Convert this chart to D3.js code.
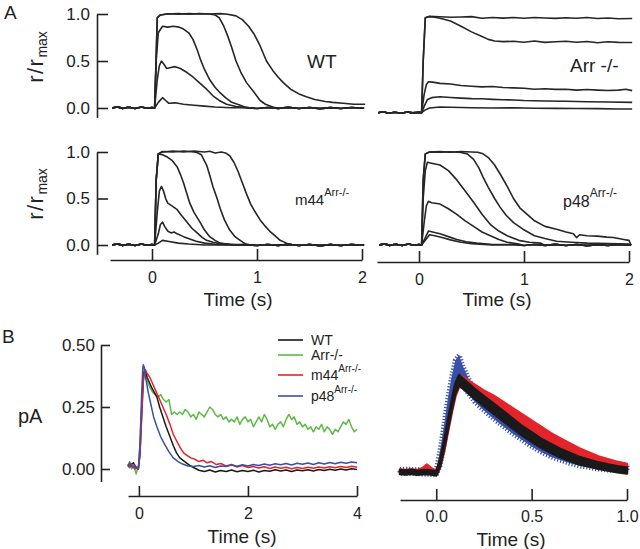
<!DOCTYPE html>
<html><head><meta charset="utf-8">
<script src="https://cdn.jsdelivr.net/npm/d3@7"></script>
<style>
body{margin:0;background:#fff;}
svg text{font-family:"Liberation Sans",Arial,Helvetica,sans-serif;fill:#222;}
</style></head><body>
<svg id="c" width="640" height="549"></svg>
<script>
// ---------- Panel A data (time s, r/rmax) ----------
const preA = [[-0.38,0],[-0.33,0.012],[-0.28,-0.004],[-0.22,0.008],[-0.16,-0.006],[-0.1,0.01],[-0.05,-0.003],[0.0,0.004],[0.025,0]];
const tailA = [[0.9,0.004],[1.0,-0.005],[1.1,0.006],[1.2,-0.004],[1.3,0.007],[1.4,-0.006],[1.5,0.005],[1.6,-0.007],[1.7,0.004],[1.8,-0.005],[1.9,0.006],[2.02,-0.003]];
const preArr = [[-0.39,-0.05],[-0.34,-0.04],[-0.29,-0.055],[-0.23,-0.045],[-0.17,-0.055],[-0.11,-0.042],[-0.06,-0.052],[0.0,-0.047],[0.025,-0.05]];

const wtTraces = [
 [[0.04,0.55],[0.05,0.96],[0.08,0.99],[0.15,1.0],[0.25,1.005],[0.35,0.998],[0.45,1.006],[0.55,1.0],[0.65,1.004],[0.72,0.998],[0.8,0.98],[0.86,0.94],[0.92,0.87],[0.97,0.79],[1.03,0.66],[1.09,0.5],[1.15,0.4],[1.2,0.33],[1.25,0.27],[1.32,0.2],[1.4,0.15],[1.47,0.12],[1.55,0.09],[1.65,0.07],[1.72,0.06],[1.82,0.05],[1.92,0.04],[2.03,0.04]],
 [[0.04,0.55],[0.05,0.96],[0.08,0.99],[0.15,1.002],[0.25,0.998],[0.35,1.004],[0.45,1.0],[0.55,1.0],[0.6,0.99],[0.64,0.96],[0.68,0.88],[0.72,0.77],[0.76,0.64],[0.8,0.5],[0.85,0.37],[0.9,0.27],[0.97,0.17],[1.03,0.08],[1.08,0.04],[1.15,0.01]],
 [[0.04,0.5],[0.06,0.8],[0.1,0.87],[0.15,0.86],[0.2,0.87],[0.26,0.86],[0.3,0.84],[0.35,0.8],[0.39,0.73],[0.43,0.62],[0.46,0.52],[0.5,0.41],[0.55,0.3],[0.6,0.22],[0.65,0.16],[0.7,0.11],[0.76,0.06],[0.84,0.03]],
 [[0.05,0.3],[0.07,0.45],[0.09,0.5],[0.11,0.47],[0.14,0.42],[0.18,0.43],[0.22,0.44],[0.27,0.42],[0.33,0.38],[0.39,0.33],[0.45,0.27],[0.52,0.2],[0.58,0.13],[0.64,0.08],[0.71,0.04],[0.8,0.015]],
 [[0.06,0.06],[0.1,0.11],[0.13,0.08],[0.16,0.05],[0.22,0.055],[0.3,0.04],[0.4,0.03],[0.5,0.02],[0.6,0.01],[0.75,0.003]]
];
const arrTraces = [
 [[0.04,0.5],[0.06,0.96],[0.1,0.975],[0.2,0.97],[0.3,0.965],[0.4,0.968],[0.5,0.972],[0.6,0.955],[0.7,0.962],[0.8,0.956],[0.9,0.962],[1.0,0.955],[1.1,0.963],[1.2,0.957],[1.3,0.953],[1.4,0.96],[1.5,0.955],[1.6,0.962],[1.7,0.952],[1.8,0.957],[1.9,0.95],[2.03,0.952]],
 [[0.04,0.5],[0.06,0.96],[0.1,0.972],[0.15,0.966],[0.2,0.955],[0.3,0.925],[0.4,0.87],[0.5,0.81],[0.6,0.76],[0.66,0.73],[0.72,0.712],[0.8,0.706],[0.9,0.71],[1.0,0.7],[1.1,0.712],[1.2,0.698],[1.3,0.705],[1.4,0.71],[1.5,0.7],[1.6,0.708],[1.7,0.694],[1.8,0.704],[1.9,0.698],[2.03,0.697]],
 [[0.05,0.15],[0.07,0.25],[0.09,0.28],[0.13,0.275],[0.2,0.262],[0.3,0.255],[0.4,0.24],[0.5,0.232],[0.6,0.225],[0.7,0.228],[0.8,0.218],[0.9,0.214],[1.0,0.21],[1.1,0.2],[1.2,0.205],[1.3,0.198],[1.4,0.2],[1.5,0.19],[1.6,0.196],[1.7,0.19],[1.8,0.186],[1.9,0.19],[1.97,0.2],[2.03,0.185]],
 [[0.05,0.02],[0.08,0.09],[0.12,0.11],[0.2,0.12],[0.3,0.112],[0.4,0.105],[0.5,0.1],[0.6,0.098],[0.7,0.092],[0.8,0.088],[0.9,0.085],[1.0,0.08],[1.2,0.075],[1.4,0.072],[1.6,0.066],[1.8,0.064],[2.03,0.06]],
 [[0.06,-0.02],[0.1,0.0],[0.2,0.01],[0.3,0.008],[0.5,0.003],[0.7,0.0],[0.9,0.002],[1.1,-0.003],[1.3,-0.004],[1.5,-0.006],[1.7,-0.007],[1.9,-0.01],[2.03,-0.01]]
];
const m44Traces = [
 [[0.04,0.7],[0.06,0.98],[0.1,1.0],[0.2,1.01],[0.3,1.0],[0.4,1.01],[0.5,1.0],[0.55,1.008],[0.6,0.99],[0.66,1.0],[0.7,0.99],[0.74,0.96],[0.78,0.89],[0.82,0.79],[0.86,0.67],[0.9,0.55],[0.94,0.44],[0.98,0.36],[1.03,0.27],[1.08,0.2],[1.12,0.15],[1.17,0.1],[1.22,0.05],[1.28,0.02]],
 [[0.04,0.7],[0.06,0.98],[0.1,1.005],[0.2,1.0],[0.3,1.01],[0.4,1.0],[0.43,0.995],[0.47,0.97],[0.52,0.86],[0.55,0.75],[0.58,0.63],[0.62,0.5],[0.65,0.39],[0.69,0.27],[0.74,0.16],[0.79,0.09],[0.84,0.05]],
 [[0.04,0.7],[0.06,0.98],[0.1,0.97],[0.14,0.95],[0.19,0.91],[0.24,0.84],[0.27,0.76],[0.3,0.67],[0.33,0.56],[0.36,0.45],[0.4,0.35],[0.46,0.24],[0.5,0.16],[0.55,0.09],[0.6,0.05],[0.65,0.02],[0.75,0.005]],
 [[0.05,0.35],[0.07,0.58],[0.09,0.63],[0.11,0.58],[0.13,0.5],[0.15,0.45],[0.19,0.42],[0.24,0.38],[0.28,0.32],[0.33,0.25],[0.38,0.18],[0.43,0.13],[0.48,0.08],[0.52,0.05],[0.58,0.03],[0.65,0.015],[0.8,0.003]],
 [[0.06,0.12],[0.08,0.22],[0.1,0.245],[0.12,0.2],[0.15,0.15],[0.18,0.13],[0.21,0.14],[0.24,0.12],[0.3,0.09],[0.36,0.065],[0.42,0.04],[0.5,0.02],[0.6,0.008],[0.8,0.0]],
 [[0.06,0.02],[0.1,0.05],[0.15,0.04],[0.25,0.02],[0.35,0.01],[0.5,0.0],[0.8,0.0]]
];
const p48Traces = [
 [[0.04,0.7],[0.06,0.98],[0.1,1.0],[0.2,1.004],[0.3,0.998],[0.4,1.005],[0.5,1.0],[0.56,0.998],[0.61,0.98],[0.66,0.94],[0.72,0.86],[0.78,0.75],[0.84,0.63],[0.9,0.5],[0.96,0.4],[1.03,0.33],[1.1,0.26],[1.2,0.2],[1.31,0.17],[1.4,0.14],[1.47,0.12],[1.5,0.08],[1.53,0.11],[1.6,0.1],[1.7,0.095],[1.79,0.085],[1.85,0.08],[1.9,0.07],[1.95,0.06],[2.0,0.05]],
 [[0.04,0.7],[0.06,0.98],[0.1,1.0],[0.2,0.998],[0.3,1.002],[0.4,0.995],[0.46,0.98],[0.52,0.92],[0.57,0.83],[0.61,0.73],[0.66,0.62],[0.72,0.5],[0.77,0.41],[0.83,0.32],[0.9,0.24],[0.99,0.17],[1.1,0.1],[1.2,0.07],[1.31,0.04],[1.45,0.03],[1.6,0.02],[1.8,0.015],[2.0,0.01]],
 [[0.04,0.5],[0.06,0.8],[0.08,0.89],[0.12,0.88],[0.2,0.86],[0.28,0.8],[0.36,0.7],[0.44,0.58],[0.52,0.46],[0.6,0.33],[0.68,0.22],[0.76,0.15],[0.84,0.1],[0.95,0.05],[1.05,0.03],[1.16,0.02]],
 [[0.05,0.25],[0.07,0.42],[0.09,0.47],[0.12,0.455],[0.2,0.44],[0.28,0.39],[0.36,0.33],[0.44,0.26],[0.52,0.2],[0.6,0.14],[0.68,0.1],[0.76,0.06],[0.84,0.03],[0.95,0.01]],
 [[0.06,0.08],[0.09,0.15],[0.13,0.14],[0.2,0.12],[0.28,0.09],[0.36,0.06],[0.45,0.035],[0.55,0.02],[0.7,0.005]],
 [[0.06,0.05],[0.1,0.11],[0.15,0.1],[0.22,0.08],[0.3,0.055],[0.4,0.03],[0.5,0.015],[0.7,0.0]]
];
const aYTicks = [0, 0.5, 1];
const aXTicks = [0, 1, 2];

// ---------- Panel B left data (time s, pA) ----------
const bWT = [[-0.2,0.02],[-0.17,0.008],[-0.14,0.018],[-0.1,0.025],[-0.07,0.01],[-0.04,0.004],[-0.01,0.0],[0.02,0.06],[0.05,0.22],[0.08,0.36],[0.1,0.40],[0.12,0.395],[0.15,0.37],[0.19,0.35],[0.23,0.33],[0.28,0.31],[0.33,0.29],[0.38,0.25],[0.44,0.21],[0.5,0.17],[0.57,0.13],[0.63,0.095],[0.69,0.065],[0.75,0.045],[0.81,0.035],[0.87,0.025],[0.95,0.012],[1.02,0.004],[1.1,-0.005],[1.2,-0.01],[1.3,-0.004],[1.4,-0.012],[1.5,-0.006],[1.6,-0.01],[1.7,-0.004],[1.8,-0.011],[1.9,-0.006],[2.0,-0.01],[2.1,-0.005],[2.2,-0.012],[2.3,-0.006],[2.4,-0.009],[2.5,-0.003],[2.6,-0.008],[2.7,-0.004],[2.8,-0.01],[2.9,-0.004],[3.0,-0.007],[3.1,-0.003],[3.2,-0.008],[3.3,-0.002],[3.4,-0.006],[3.5,-0.001],[3.6,-0.005],[3.7,0.0],[3.8,-0.004],[3.9,0.001],[4.0,-0.002]];
const bArr = [[-0.2,0.01],[-0.17,0.03],[-0.13,0.0],[-0.1,0.012],[-0.07,-0.005],[-0.05,-0.02],[-0.02,0.005],[0.0,0.02],[0.03,0.15],[0.06,0.3],[0.09,0.38],[0.11,0.40],[0.13,0.37],[0.16,0.35],[0.2,0.33],[0.25,0.31],[0.3,0.30],[0.35,0.29],[0.4,0.3],[0.45,0.28],[0.5,0.27],[0.55,0.28],[0.6,0.22],[0.65,0.23],[0.7,0.22],[0.75,0.23],[0.8,0.22],[0.85,0.24],[0.9,0.23],[0.95,0.21],[1.0,0.22],[1.05,0.2],[1.1,0.23],[1.15,0.22],[1.2,0.21],[1.25,0.23],[1.3,0.25],[1.35,0.24],[1.4,0.22],[1.45,0.21],[1.5,0.22],[1.55,0.20],[1.6,0.21],[1.65,0.19],[1.7,0.20],[1.75,0.19],[1.8,0.21],[1.85,0.18],[1.9,0.2],[1.95,0.21],[2.0,0.19],[2.05,0.2],[2.1,0.17],[2.15,0.19],[2.2,0.21],[2.25,0.19],[2.3,0.22],[2.35,0.2],[2.4,0.17],[2.45,0.18],[2.5,0.16],[2.55,0.18],[2.6,0.19],[2.65,0.17],[2.7,0.2],[2.75,0.22],[2.8,0.2],[2.85,0.21],[2.9,0.18],[2.95,0.19],[3.0,0.17],[3.05,0.18],[3.1,0.16],[3.15,0.17],[3.2,0.15],[3.25,0.17],[3.3,0.16],[3.35,0.18],[3.4,0.15],[3.45,0.17],[3.5,0.16],[3.55,0.14],[3.6,0.16],[3.65,0.15],[3.7,0.17],[3.75,0.19],[3.8,0.18],[3.85,0.2],[3.9,0.17],[3.95,0.15],[4.0,0.16]];
const bM44 = [[-0.2,0.015],[-0.17,0.005],[-0.14,0.02],[-0.1,0.01],[-0.07,0.0],[-0.04,0.008],[-0.01,0.0],[0.02,0.06],[0.05,0.2],[0.08,0.35],[0.1,0.39],[0.12,0.40],[0.15,0.385],[0.2,0.37],[0.26,0.34],[0.32,0.31],[0.38,0.28],[0.44,0.25],[0.5,0.22],[0.57,0.18],[0.63,0.14],[0.7,0.11],[0.76,0.085],[0.82,0.065],[0.88,0.055],[0.95,0.045],[1.02,0.04],[1.1,0.03],[1.18,0.035],[1.25,0.025],[1.33,0.03],[1.42,0.018],[1.5,0.022],[1.6,0.012],[1.7,0.018],[1.8,0.008],[1.9,0.014],[2.0,0.006],[2.1,0.01],[2.2,0.004],[2.3,0.009],[2.4,0.002],[2.5,0.008],[2.6,0.003],[2.7,0.007],[2.8,0.001],[2.9,0.006],[3.0,0.002],[3.1,0.007],[3.2,0.003],[3.3,0.008],[3.4,0.004],[3.5,0.009],[3.6,0.005],[3.7,0.01],[3.8,0.006],[3.9,0.011],[4.0,0.007]];
const bP48 = [[-0.2,0.01],[-0.17,0.025],[-0.14,0.012],[-0.1,0.006],[-0.07,0.015],[-0.04,0.002],[-0.01,0.005],[0.02,0.1],[0.05,0.3],[0.07,0.4],[0.08,0.42],[0.1,0.41],[0.13,0.36],[0.17,0.31],[0.22,0.26],[0.27,0.21],[0.33,0.17],[0.4,0.13],[0.47,0.1],[0.55,0.07],[0.63,0.045],[0.72,0.03],[0.8,0.02],[0.9,0.012],[1.0,0.01],[1.1,0.014],[1.2,0.008],[1.3,0.013],[1.4,0.006],[1.5,0.012],[1.6,0.01],[1.7,0.016],[1.8,0.011],[1.9,0.017],[2.0,0.012],[2.1,0.018],[2.2,0.014],[2.3,0.02],[2.4,0.015],[2.5,0.021],[2.6,0.017],[2.7,0.022],[2.8,0.016],[2.9,0.023],[3.0,0.019],[3.1,0.024],[3.2,0.018],[3.3,0.025],[3.4,0.02],[3.5,0.026],[3.6,0.021],[3.7,0.027],[3.8,0.023],[3.9,0.028],[4.0,0.025]];
const legendNames = ["WT", "Arr-/-", "m44", "p48"];
const legendSup = ["", "", "Arr-/-", "Arr-/-"];
const seriesColors = ["#1a1a1a", "#5dba47", "#e3242b", "#3850a8"];
const bYTicks = [0, 0.25, 0.5];
const bXTicks = [0, 2, 4];

// ---------- Panel B right data (mean ± SEM) ----------
const tR = [-0.19,-0.16,-0.13,-0.1,-0.07,-0.05,-0.03,-0.01,0.0,0.02,0.04,0.06,0.08,0.1,0.12,0.14,0.17,0.2,0.25,0.3,0.35,0.4,0.45,0.5,0.55,0.6,0.65,0.7,0.75,0.8,0.85,0.9,0.95,1.0];
const wtMean = [0.004,0.002,0.005,0.001,0.003,0.004,0.002,0.0,-0.002,0.04,0.11,0.19,0.27,0.34,0.375,0.36,0.34,0.32,0.29,0.26,0.23,0.2,0.17,0.145,0.12,0.1,0.08,0.065,0.05,0.04,0.03,0.022,0.015,0.01];
const wtSem  = [0.008,0.008,0.008,0.008,0.008,0.008,0.008,0.008,0.008,0.014,0.016,0.018,0.02,0.02,0.02,0.02,0.02,0.02,0.02,0.02,0.02,0.02,0.019,0.019,0.018,0.018,0.017,0.016,0.015,0.014,0.013,0.012,0.012,0.012];
const m44Mean = [0.006,0.004,0.006,0.004,0.01,0.022,0.012,0.004,0.0,0.035,0.1,0.18,0.26,0.33,0.37,0.365,0.35,0.335,0.31,0.29,0.265,0.24,0.215,0.19,0.165,0.14,0.12,0.1,0.08,0.065,0.05,0.04,0.03,0.022];
const m44Sem  = [0.008,0.008,0.008,0.008,0.01,0.012,0.01,0.008,0.008,0.014,0.018,0.02,0.022,0.022,0.022,0.022,0.022,0.022,0.022,0.022,0.022,0.022,0.022,0.022,0.021,0.021,0.02,0.02,0.019,0.018,0.017,0.016,0.015,0.014];
const p48Mean = [0.006,0.008,0.006,0.005,0.004,0.003,0.002,0.001,0.002,0.06,0.15,0.25,0.34,0.41,0.43,0.39,0.35,0.31,0.27,0.235,0.205,0.175,0.148,0.122,0.1,0.08,0.066,0.052,0.042,0.035,0.028,0.024,0.022,0.02];
const p48Sem  = [0.008,0.008,0.008,0.008,0.008,0.008,0.008,0.008,0.01,0.03,0.04,0.045,0.045,0.045,0.045,0.04,0.03,0.022,0.018,0.016,0.016,0.016,0.015,0.015,0.015,0.014,0.014,0.013,0.013,0.012,0.012,0.012,0.012,0.012];
const brXTicks = [0, 0.5, 1];

// ---------- drawing ----------
const svg = d3.select("#c");
svg.append("rect").attr("width",640).attr("height",549).attr("fill","#fff");
const FONT = '"Liberation Sans",Arial,Helvetica,sans-serif';
const INK = "#222";

function styleAxis(g, fs){
  g.attr("font-size", fs).attr("font-family", FONT).attr("color", INK);
  g.selectAll("path,line").attr("stroke", INK).attr("stroke-width", 1.6);
}
function withTail(tr, pre){
  const last = tr[tr.length-1][0];
  return pre.concat(tr, pre === preArr ? [] : tailA.filter(d => d[0] > last));
}
function drawTraces(traces, pre, x, y){
  const line = d3.line().x(d => x(d[0])).y(d => y(d[1]));
  svg.append("g").selectAll("path").data(traces).join("path")
    .attr("d", d => line(withTail(d, pre)))
    .attr("fill","none").attr("stroke","#262626").attr("stroke-width",1.6)
    .attr("stroke-linejoin","round");
}

// Panel A scales
const xAL = d3.scaleLinear().domain([-0.4,2]).range([110,362]);
const xAR = d3.scaleLinear().domain([-0.4,2]).range([377,629]);
const yAT = d3.scaleLinear().domain([-0.1,1]).range([117.4,14]);
const yAB = d3.scaleLinear().domain([-0.1,1]).range([254.3,152]);

drawTraces(wtTraces, preA, xAL, yAT);
drawTraces(arrTraces, preArr, xAR, yAT);
drawTraces(m44Traces, preA, xAL, yAB);
drawTraces(p48Traces, preA, xAR, yAB);

const yAxA = s => d3.axisLeft(s).tickValues(aYTicks).tickFormat(d3.format(".1f")).tickSize(-11).tickSizeOuter(0).tickPadding(7);
styleAxis(svg.append("g").attr("transform","translate(97,0)").call(yAxA(yAT)), 17);
styleAxis(svg.append("g").attr("transform","translate(97,0)").call(yAxA(yAB)), 17);
const xAxA = s => d3.axisBottom(s).tickValues(aXTicks).tickFormat(d3.format("d")).tickSize(-11).tickSizeOuter(0).tickPadding(12);
styleAxis(svg.append("g").attr("transform","translate(0,260)").call(xAxA(xAL)), 16);
styleAxis(svg.append("g").attr("transform","translate(0,262)").call(xAxA(xAR)), 16);

function addText(x, y, str, fs, anchor){
  return svg.append("text").attr("x",x).attr("y",y).attr("font-size",fs)
    .attr("text-anchor", anchor || "start").text(str);
}
function rLabel(x, y){
  const t = svg.append("text").attr("transform",`translate(${x},${y}) rotate(-90)`)
    .attr("text-anchor","middle").attr("font-size",22);
  t.append("tspan").attr("letter-spacing",1.5).text("r/r");
  t.append("tspan").attr("font-size",14).attr("dy",4).text("max");
}
function supText(x, y, main, sup, fs, sfs, up){
  const t = svg.append("text").attr("x",x).attr("y",y).attr("font-size",fs);
  t.append("tspan").text(main);
  t.append("tspan").attr("font-size",sfs).attr("dy",-up).text(sup);
  return t;
}
addText(4, 19, "A", 19);
rLabel(43, 57);
rLabel(43, 194);
addText(307, 68, "WT", 19);
addText(570, 72, "Arr -/-", 19);
supText(295, 205, "m44", "Arr-/-", 15, 11, 9);
supText(563, 207, "p48", "Arr-/-", 16, 12, 10);
addText(238, 306, "Time (s)", 19, "middle");
addText(497, 306, "Time (s)", 19, "middle");

// Panel B left
const xBL = d3.scaleLinear().domain([-0.2,4]).range([128,357]);
const yBL = d3.scaleLinear().domain([-0.05,0.5]).range([481.4,345]);
const lineBL = d3.line().x(d => xBL(d[0])).y(d => yBL(d[1]));
const bSeries = [bArr, bWT, bM44, bP48];
const bColorIdx = [1, 0, 2, 3];
svg.append("g").selectAll("path").data(bSeries).join("path")
  .attr("d", d => lineBL(d)).attr("fill","none")
  .attr("stroke", (d,i) => seriesColors[bColorIdx[i]]).attr("stroke-width",1.5)
  .attr("stroke-linejoin","round");
styleAxis(svg.append("g").attr("transform","translate(101,0)")
  .call(d3.axisLeft(yBL).tickValues(bYTicks).tickFormat(d3.format(".2f")).tickSize(-9).tickSizeOuter(0).tickPadding(6)), 17);
styleAxis(svg.append("g").attr("transform","translate(0,496)")
  .call(d3.axisBottom(xBL).tickValues(bXTicks).tickFormat(d3.format("d")).tickSize(-10).tickSizeOuter(0).tickPadding(12)), 16);
addText(2, 343, "B", 19);
addText(18, 423, "pA", 20);
addText(242, 543, "Time (s)", 19, "middle");

// legend
const legY = [340, 355, 375, 396];
const leg = svg.append("g");
legendNames.forEach((n, i) => {
  leg.append("line").attr("x1",278).attr("x2",303).attr("y1",legY[i]).attr("y2",legY[i])
    .attr("stroke", seriesColors[i]).attr("stroke-width",1.6);
  if (legendSup[i]) supText(311, legY[i] + 5, n, legendSup[i], 14, 10, 8);
  else addText(311, legY[i] + 5, n, 14);
});

// Panel B right (bands)
const xBR = d3.scaleLinear().domain([-0.19,1]).range([400,627]);
const yBR = d3.scaleLinear().domain([0,0.5]).range([473,349]);
const bandSets = [[p48Mean,p48Sem,3],[m44Mean,m44Sem,2],[wtMean,wtSem,0]];
bandSets.forEach(([m, s, ci]) => {
  const pts = tR.map((t, i) => ({t, lo: m[i]-s[i], hi: m[i]+s[i]}));
  const area = d3.area().x(d => xBR(d.t)).y0(d => yBR(d.lo)).y1(d => yBR(d.hi));
  svg.append("path").attr("d", area(pts)).attr("fill", seriesColors[ci])
    .attr("stroke", seriesColors[ci]).attr("stroke-width", ci === 3 ? 5 : 2.5)
    .attr("stroke-dasharray", ci === 3 ? "1.2,1.8" : null)
    .attr("stroke-linejoin","round");
});
styleAxis(svg.append("g").attr("transform","translate(0,500)")
  .call(d3.axisBottom(xBR).tickValues(brXTicks).tickFormat(d3.format(".1f")).tickSize(-11).tickSizeOuter(0).tickPadding(11)), 16);
addText(511, 546, "Time (s)", 19, "middle");
</script></body></html>
